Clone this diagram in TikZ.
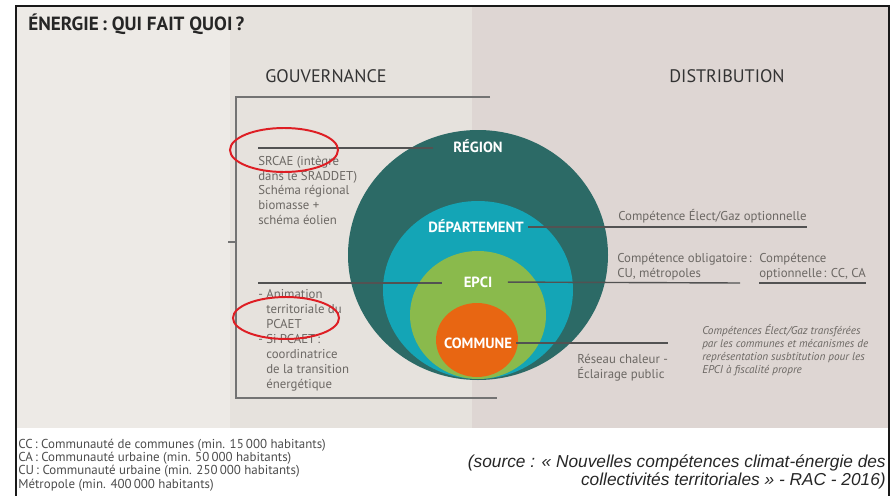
\documentclass[tikz,border=0pt]{standalone}
\usepackage{fontspec}
\setmainfont{PT Sans}
\newfontfamily\arialfont{Liberation Sans}
\usepackage{tikz}
\definecolor{bgleft}{RGB}{237,234,230}
\definecolor{bgmid}{RGB}{230,226,221}
\definecolor{bgright}{RGB}{222,214,211}
\definecolor{cregion}{RGB}{44,106,102}
\definecolor{cdep}{RGB}{20,165,182}
\definecolor{cepci}{RGB}{138,186,76}
\definecolor{ccom}{RGB}{232,102,18}
\definecolor{txtgray}{RGB}{108,104,100}
\definecolor{annred}{RGB}{222,30,36}
\tikzset{
  frm/.style={black!90, line width=1.4pt},
  ttl/.style={font=\fontsize{13.6}{15}\selectfont\bfseries, text=black!85, inner sep=0pt},
  hdr/.style={font=\fontsize{12.9}{14}\selectfont, text=black!80, inner sep=0pt},
  gtxt/.style={font=\fontsize{9.1}{10.4}\selectfont, text=txtgray, align=left, inner sep=0pt},
  itxt/.style={font=\fontsize{8}{9.2}\selectfont\itshape, text=txtgray, align=left, inner sep=0pt},
  clab/.style={font=\fontsize{10.5}{12}\selectfont\bfseries, text=white,
      text height=7.5pt, text depth=0pt, inner xsep=3pt, inner ysep=0pt},
  lnk/.style={black!68, line width=1pt},
  brk/.style={black!55, line width=0.9pt},
  anno/.style={annred, line width=1.4pt},
  lgd/.style={font=\fontsize{9.2}{9.3}\selectfont, text=black!70, align=left, inner sep=0pt},
  src/.style={font=\arialfont\fontsize{12.3}{12.8}\selectfont\itshape, text=black!85, align=right, inner sep=0pt},
}
\begin{document}
\begin{tikzpicture}[x=0.25mm, y=-0.25mm]
  \useasboundingbox (0,0) rectangle (896,496);
  \fill[bgleft] (16,6) rectangle (230,428);
  \fill[bgmid] (230,6) rectangle (472,428);
  \fill[bgright] (472,6) rectangle (889,428);
  \draw[frm] (16,496) -- (16,6) -- (889,6) -- (889,496);

  \node[ttl, anchor=base west] (title) at (28,30) {ÉNERGIE\,: QUI FAIT QUOI\,?};
  \node[hdr, anchor=base] (gouv) at (326,82) {GOUVERNANCE};
  \node[hdr, anchor=base] (distr) at (727,82) {DISTRIBUTION};

  \draw[brk] (490,97) -- (236,97) -- (236,398) -- (497,398);
  \draw[brk] (228,242) -- (236,242);

  \fill[cregion] (478,255) ellipse [x radius=130, y radius=125];
  \fill[cdep] (478,290) ellipse [x radius=95, y radius=89];
  \fill[cepci] (478,315) ellipse [x radius=68, y radius=64];
  \fill[ccom] (477,340) ellipse [x radius=41, y radius=37];

  \node[clab] (lblreg) at (478,147) {RÉGION};
  \node[clab] (lbldep) at (476,227) {DÉPARTEMENT};
  \node[clab] (lblepci) at (478,282) {EPCI};
  \node[clab] (lblcom) at (478,343) {COMMUNE};

  % multi-line nodes sit on the baseline of their last line
  \node[gtxt, anchor=base west] (srcae) at (258,224)
    {SRCAE (intègre\\dans le SRADDET)\\Schéma régional\\biomasse +\\schéma éolien};
  \node[gtxt, font=\fontsize{9.1}{10.6}\selectfont, anchor=base west] (pcaet) at (258,388)
    {- Animation\\\phantom{- }territoriale du\\\phantom{- }PCAET\\- Si PCAET\,:\\
     \phantom{- }coordinatrice\\\phantom{- }de la transition\\\phantom{- }énergétique};

  \node[gtxt, anchor=base west] (optdep) at (618,220) {Compétence Élect/Gaz optionnelle};
  \node[gtxt, anchor=base west] (oblig) at (617,277) {Compétence obligatoire\kern1pt:\\CU, métropoles};
  \node[gtxt, anchor=base west] (optcc) at (759,277) {Compétence\\optionnelle\kern1pt: CC, CA};
  \node[gtxt, anchor=base west] (reseau) at (577,378) {Réseau chaleur -\\Éclairage public};
  \node[itxt, anchor=base west] (transf) at (702,373)
    {Compétences Élect/Gaz transférées\\par les communes et mécanismes de\\représentation susbtitution pour les\\EPCI à fiscalité propre};

  \coordinate (gR) at (433,148);
  \coordinate (gE) at (442,283);
  \coordinate (dE) at (740,283);
  \draw[lnk] (gR) -- (gR -| srcae.west);
  \draw[lnk] (gE) -- (gE -| pcaet.west);
  \draw[lnk] (lbldep.east) -- (lbldep.east -| optdep.east);
  \draw[lnk, shorten <=8pt] (lblepci.east) -- (dE);
  \draw[lnk] (dE -| optcc.west) -- (dE -| optcc.east);
  \draw[lnk] (lblcom.east) -- (lblcom.east -| reseau.east);

  \draw[anno] (284,150) ellipse [x radius=54, y radius=22];
  \draw[anno] (286,318) ellipse [x radius=53, y radius=21];

  \node[lgd, anchor=base west] (legend) at (18,488)
    {CC\,: Communauté de communes (min. 15\,000 habitants)\\CA\,: Communauté urbaine (min. 50\,000 habitants)\\
     CU\,: Communauté urbaine (min. 250\,000 habitants)\\Métropole (min. 400\,000 habitants)};
  \node[src, anchor=base east] (source) at (886,485)
    {(source : « Nouvelles compétences climat-énergie des\\collectivités territoriales » - RAC - 2016)};
\end{tikzpicture}
\end{document}
